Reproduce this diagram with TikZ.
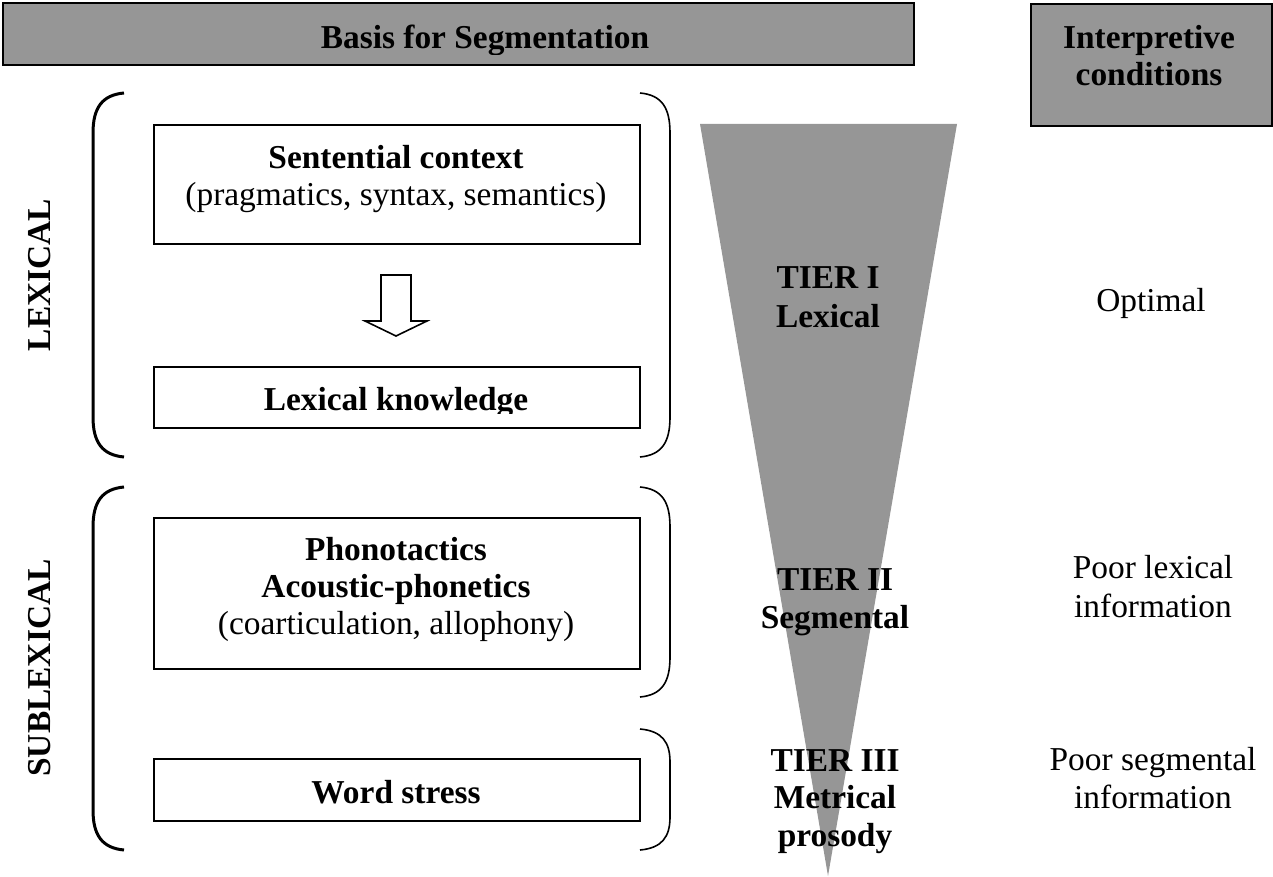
\documentclass[tikz,border=0pt]{standalone}
\usepackage{fontspec}
\setmainfont{Liberation Serif}
\definecolor{hdr}{RGB}{150,150,150}
\begin{document}
\begin{tikzpicture}[x=1pt,y=-1pt,
  font=\fontsize{33.4}{37}\selectfont,
  hdrbox/.style={draw=black, line width=2.2pt, fill=hdr, inner sep=0pt, anchor=north west},
  plainbox/.style={draw=black, line width=1.6pt, inner sep=0pt, anchor=north west},
  lbr/.style={line width=3pt},
  rbr/.style={line width=1.6pt},
  bt/.style={font=\fontsize{33.4}{37}\selectfont\bfseries, anchor=base, inner sep=0pt},
  rt/.style={anchor=base, inner sep=0pt}]
\useasboundingbox (0,0) rectangle (1273,877);

% headers
\node[hdrbox, minimum width=911pt, minimum height=62pt] (h1) at (2,2) {};
\node[hdrbox, minimum width=241pt, minimum height=122pt] (h2) at (1030,3) {};
\begin{scope}
\clip (2,2) rectangle (913,55);
\node[bt] (h1t) at (485,49) {Basis for Segmentation};
\end{scope}
\node[bt] (h2a) at (1149,49) {Interpretive};
\node[bt] (h2b) at (1149,86) {conditions};

% funnel
\fill[hdr] (700,124) -- (957,124) -- (828,876) -- cycle;

% brackets
\draw[lbr] (124,93) .. controls (102,95) and (93,108) .. (93,133) -- (93,417) .. controls (93,442) and (102,455) .. (124,457);
\draw[rbr] (640,93) .. controls (662,95) and (670,108) .. (670,133) -- (670,417) .. controls (670,442) and (662,455) .. (640,457);
\draw[lbr] (124,487) .. controls (102,489) and (93,502) .. (93,527) -- (93,810) .. controls (93,835) and (102,848) .. (124,850);
\draw[rbr] (640,487) .. controls (662,489) and (670,502) .. (670,527) -- (670,657) .. controls (670,682) and (662,695) .. (640,697);
\draw[rbr] (640,729) .. controls (662,731) and (670,742) .. (670,762) -- (670,817) .. controls (670,837) and (662,848) .. (640,850);

% side labels
\node[bt, rotate=90] (lex) at (50,275) {LEXICAL};
\node[bt, rotate=90] (sublex) at (50,668) {SUBLEXICAL};

% boxes
\node[plainbox, minimum width=486pt, minimum height=119pt] (sc) at (153,124) {};
\node[bt] (sca) at (396,169) {Sentential context};
\node[rt] (scb) at (396,206) {(pragmatics, syntax, semantics)};

\draw[line width=1.6pt, fill=white] (381,275) -- (411,275) -- (411,321) -- (427,321) -- (396,336) -- (365,321) -- (381,321) -- cycle;

\node[plainbox, minimum width=486pt, minimum height=61pt] (lk) at (153,366) {};
\begin{scope}
\clip (153,366) rectangle (639,413);
\node[bt] (lkt) at (396,410) {Lexical knowledge};
\end{scope}

\node[plainbox, minimum width=486pt, minimum height=151pt] (ph) at (153,517) {};
\node[bt] (pha) at (396,560) {Phonotactics};
\node[bt] (phb) at (396,597) {Acoustic-phonetics};
\node[rt] (phc) at (396,634) {(coarticulation, allophony)};

\node[plainbox, minimum width=486pt, minimum height=62pt] (ws) at (153,758) {};
\node[bt] (wst) at (396,803) {Word stress};

% tiers
\node[bt] (t1a) at (828,288) {TIER I};
\node[bt] (t1b) at (828,327) {Lexical};
\node[bt] (t2a) at (835,590) {TIER II};
\node[bt] (t2b) at (835,628) {Segmental};
\node[bt] (t3a) at (835,771) {TIER III};
\node[bt] (t3b) at (835,808) {Metrical};
\node[bt] (t3c) at (835,846) {prosody};

% conditions
\node[rt] (c1) at (1151,311) {Optimal};
\node[rt] (c2a) at (1153,578) {Poor lexical};
\node[rt] (c2b) at (1153,617) {information};
\node[rt] (c3a) at (1153,770) {Poor segmental};
\node[rt] (c3b) at (1153,808) {information};
\end{tikzpicture}
\end{document}
